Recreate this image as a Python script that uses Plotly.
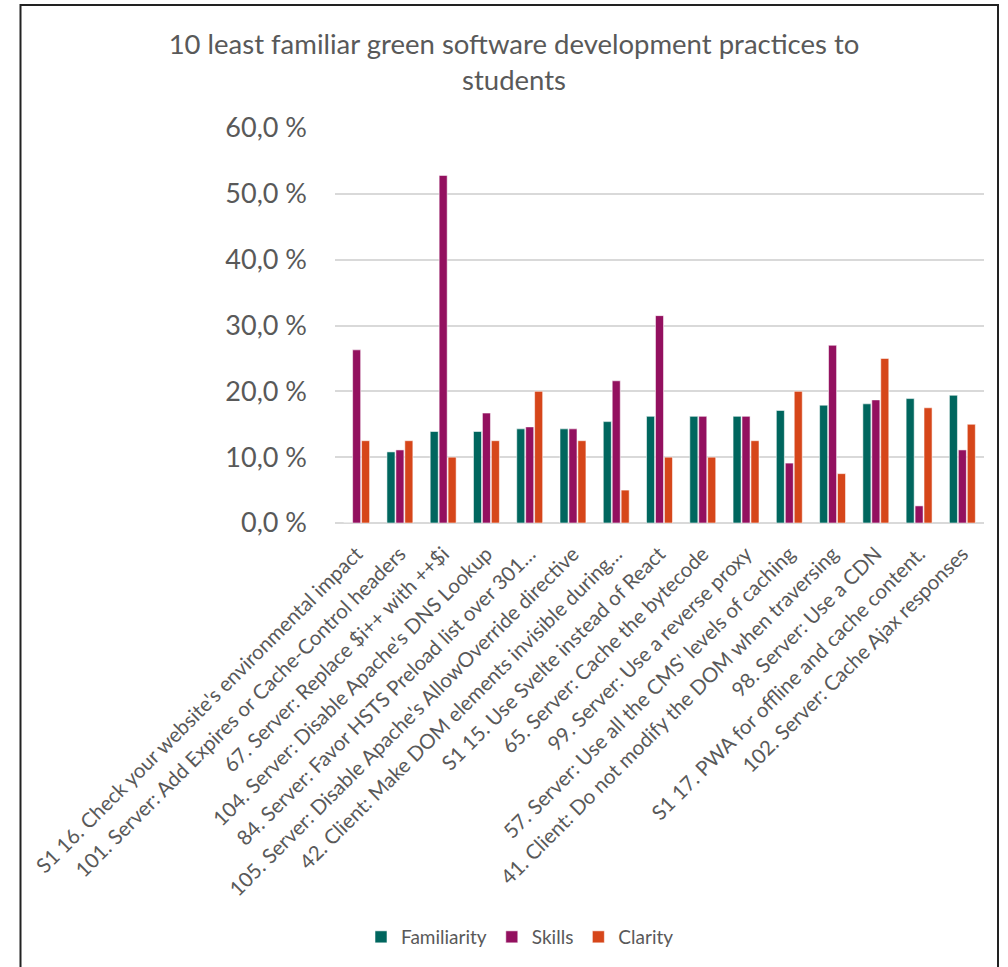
import plotly.graph_objects as go

# Practices (x categories), in display order
practices = [
    "S1 16. Check your website's environmental impact",
    "101. Server: Add Expires or Cache-Control headers",
    "67. Server: Replace $i++ with ++$i",
    "104. Server: Disable Apache's DNS Lookup",
    "84. Server: Favor HSTS Preload list over 301…",
    "105. Server: Disable Apache's AllowOverride directive",
    "42. Client: Make DOM elements invisible during…",
    "S1 15. Use Svelte instead of React",
    "65. Server: Cache the bytecode",
    "99. Server: Use a reverse proxy",
    "57. Server: Use all the CMS' levels of caching",
    "41. Client: Do not modify the DOM when traversing",
    "98. Server: Use a CDN",
    "S1 17. PWA for offline and cache content.",
    "102. Server: Cache Ajax responses",
]

# Shares of students (%)
familiarity = [0.0, 10.8, 13.9, 13.9, 14.3, 14.3, 15.4, 16.2, 16.2, 16.2, 17.1, 17.9, 18.1, 18.9, 19.4]
skills = [26.3, 11.1, 52.8, 16.7, 14.6, 14.3, 21.6, 31.5, 16.2, 16.2, 9.1, 27.0, 18.7, 2.6, 11.1]
clarity = [12.5, 12.5, 10.0, 12.5, 20.0, 12.5, 5.0, 10.0, 10.0, 12.5, 20.0, 7.5, 25.0, 17.5, 15.0]

series_names = ["Familiarity", "Skills", "Clarity"]
series_colors = ["#00665E", "#93105F", "#D6461A"]

FONT = "Lato"
GREY = "#595959"

fig = go.Figure()
for name, vals, col in zip(series_names, [familiarity, skills, clarity], series_colors):
    fig.add_trace(go.Bar(
        name=name,
        x=practices,
        y=vals,
        marker=dict(color=col, line=dict(color="rgba(255,255,255,0.55)", width=1)),
    ))

# plot area in pixels: x 335..984, y 128..523
W, H = 1008, 967
L, R, T, B = 335, 984, 128, 523
pw, ph = R - L, B - T

def px_x(p):
    return (p - L) / pw

def px_y(p):
    return (B - p) / ph

fig.update_layout(
    width=W, height=H,
    margin=dict(l=L, r=W - R, t=T, b=H - B),
    paper_bgcolor="white",
    plot_bgcolor="white",
    barmode="group",
    bargap=0.38,
    bargroupgap=0.1,
    separators=", ",
    font=dict(family=FONT, color=GREY),
    title=dict(
        text="10 least familiar green software development practices to<br>students",
        x=514 / W, xanchor="center", xref="container",
        y=1 - 54 / H, yanchor="top", yref="container",
        font=dict(family=FONT, size=27.5, color=GREY),
    ),
    xaxis=dict(
        tickangle=-45,
        tickfont=dict(family=FONT, size=20.5, color=GREY),
        showgrid=False,
        showline=False,
        ticks="",
        ticklabelstandoff=14,
    ),
    yaxis=dict(
        range=[0, 60],
        dtick=10,
        tickformat=".1f",
        ticksuffix=" %",
        tickfont=dict(family=FONT, size=27, color=GREY),
        showgrid=True,
        gridcolor="#D9D9D9",
        gridwidth=1.5,
        zeroline=True,
        zerolinecolor="#D9D9D9",
        zerolinewidth=1.5,
        showline=False,
        ticks="",
        ticklabelstandoff=27,
    ),
    legend=dict(
        orientation="h",
        x=520 / W, xanchor="center", xref="container",
        y=1 - 937 / H, yanchor="middle", yref="container",
        font=dict(family=FONT, size=19, color=GREY),
        itemwidth=30,
        traceorder="normal",
    ),
    shapes=[
        dict(
            type="rect", xref="paper", yref="paper",
            x0=px_x(20.5), x1=px_x(998), y0=px_y(990), y1=px_y(5),
            line=dict(color="#222222", width=2),
            fillcolor="rgba(0,0,0,0)",
            layer="below",
        )
    ],
)

fig.write_html("out.html")
